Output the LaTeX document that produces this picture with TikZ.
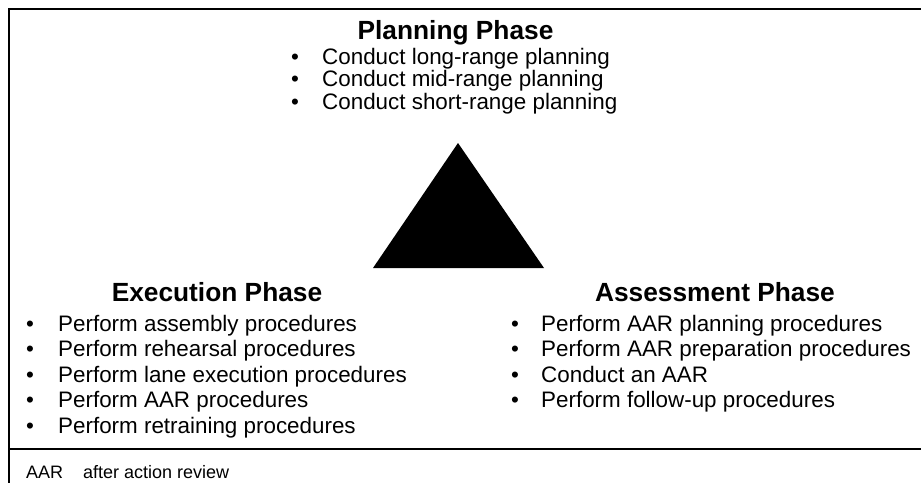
\documentclass[tikz,border=0pt]{standalone}
\usepackage{fontspec}
\setmainfont{Liberation Sans}
\begin{document}
\begin{tikzpicture}[x=1pt,y=-1pt,
  phasetitle/.style={font=\bfseries\fontsize{26.3}{30}\selectfont, anchor=base, inner sep=0pt},
  itemtext/.style={font=\fontsize{22.4}{26}\selectfont, anchor=base west, inner sep=0pt},
  bulletmark/.style={font=\fontsize{22.4}{26}\selectfont, anchor=base, inner sep=0pt},
  foottext/.style={font=\fontsize{18}{21}\selectfont, anchor=base west, inner sep=0pt},
  frameline/.style={line width=2pt},
  divline/.style={line width=1.6pt}]
\useasboundingbox (0,0) rectangle (921,482);
% frame
\draw[frameline] (9,484) -- (9,9) -- (923,9);
\draw[divline] (9,449) -- (923,449);
% triangle
\fill (458,143) -- (544,268) -- (373,268) -- cycle;
% planning
\node[phasetitle] (ptitle) at (455.5,39) {Planning Phase};
\foreach \y/\t [count=\i] in {64/Conduct long-range planning, 86.5/Conduct mid-range planning, 109/Conduct short-range planning}{
  \node[bulletmark] (pb\i) at (295,\y) {•};
  \node[itemtext] (pi\i) at (322,\y) {\t};
}
% execution
\node[phasetitle] (etitle) at (217,301) {Execution Phase};
\foreach \y/\t [count=\i] in {331/Perform assembly procedures, 356.5/Perform rehearsal procedures, 382/Perform lane execution procedures, 407.5/Perform AAR procedures, 433/Perform retraining procedures}{
  \node[bulletmark] (eb\i) at (30,\y) {•};
  \node[itemtext] (ei\i) at (58,\y) {\t};
}
% assessment
\node[phasetitle] (atitle) at (715,301) {Assessment Phase};
\foreach \y/\t [count=\i] in {331/Perform AAR planning procedures, 356.5/Perform AAR preparation procedures, 382/Conduct an AAR, 407.5/Perform follow-up procedures}{
  \node[bulletmark] (ab\i) at (515,\y) {•};
  \node[itemtext] (ai\i) at (541,\y) {\t};
}
% footer
\node[foottext] (fabbr) at (26,478) {AAR};
\node[foottext] (fdef) at (83,478) {after action review};
\end{tikzpicture}
\end{document}
